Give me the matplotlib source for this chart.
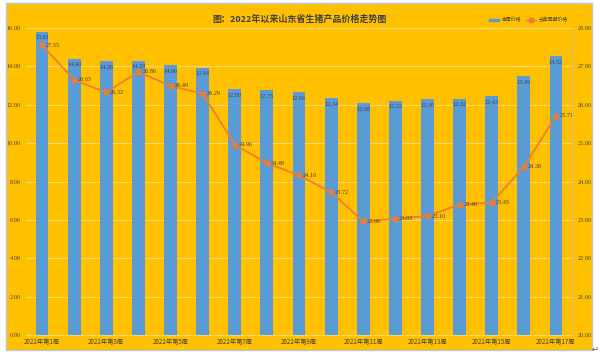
import matplotlib.pyplot as plt
import numpy as np
from matplotlib.patches import Rectangle
from matplotlib.lines import Line2D

plt.rcParams['font.family'] = ['Noto Sans CJK SC', 'DejaVu Sans']

weeks = [f"2022年第{i}周" for i in range(1, 18)]
price_now = [15.81, 14.40, 14.26, 14.29, 14.06, 13.94, 12.80, 12.75, 12.66,
             12.34, 12.08, 12.22, 12.30, 12.32, 12.43, 13.49, 14.52]
price_last = [27.55, 26.65, 26.32, 26.86, 26.49, 26.29, 24.96, 24.48, 24.16,
              23.72, 22.96, 23.03, 23.10, 23.40, 23.45, 24.38, 25.71]
left_ticks = [0, 2, 4, 6, 8, 10, 12, 14, 16]
right_ticks = [20, 21, 22, 23, 24, 25, 26, 27, 28]

gold = '#FFC000'
blue = '#5B9BD5'
orange = '#ED7D31'
grid_c = '#F5D77A'
txt = '#404040'
num_font = 'Liberation Serif'

fig = plt.figure(figsize=(6, 3.56), dpi=100, facecolor='white')
# chart area with thin border, drawn behind the axes
fig.patches.append(Rectangle((6 / 600, 1 - 350 / 356), 586 / 600, 347 / 356,
                             transform=fig.transFigure, facecolor=gold,
                             edgecolor='#B4C7D6', linewidth=1.0, zorder=-10))

ax = fig.add_axes([26 / 600, 1 - 335 / 356, 546 / 600, 307 / 356])
ax.set_facecolor('none')
x = np.arange(len(weeks))

ax.bar(x, price_now, width=0.4, color=blue, zorder=3)
ax.set_xlim(-0.5, len(weeks) - 0.5)
ax.set_ylim(0, 16)
ax.set_yticks(left_ticks)
ax.set_yticklabels([f"{v:.2f}" for v in left_ticks], fontsize=4.5,
                   family=num_font, color=txt)
ax.grid(axis='y', color=grid_c, linewidth=0.8, zorder=0)
ax.set_axisbelow(True)
ax.set_xticks(x[::2])
ax.set_xticklabels(weeks[::2], fontsize=4.5, color=txt)
ax.tick_params(length=0, pad=2)
ax.tick_params(axis='y', pad=4)
for s in ['top', 'left', 'right']:
    ax.spines[s].set_visible(False)
ax.spines['bottom'].set_color(grid_c)

for xi, v in zip(x, price_now):
    ax.text(xi, v - 0.32, f"{v:.2f}", ha='center', va='center', fontsize=4.5,
            family=num_font, color=txt, zorder=5)

ax2 = ax.twinx()
ax2.plot(x, price_last, color=orange, linewidth=1.3, marker='s',
         markersize=3.5, zorder=4)
ax2.set_ylim(20, 28)
ax2.set_yticks(right_ticks)
ax2.set_yticklabels([f"{v:.2f}" for v in right_ticks], fontsize=4.5,
                    family=num_font, color=txt)
ax2.tick_params(length=0, pad=4)
for s in ['top', 'left', 'bottom']:
    ax2.spines[s].set_visible(False)
ax2.spines['right'].set_color('#D9C27A')
for xi, v in zip(x, price_last):
    ax2.text(xi + 0.12, v, f"{v:.2f}", ha='left', va='center', fontsize=4.5,
             family=num_font, color=txt, zorder=5)

fig.text(0.5, 1 - 19 / 356, "图：2022年以来山东省生猪产品价格走势图",
         ha='center', va='center', fontsize=6.5, fontweight='bold', color=txt)

handles = [Rectangle((0, 0), 1, 1, color=blue),
           Line2D([], [], color=orange, marker='s', markersize=2.5, linewidth=1)]
fig.legend(handles, ["本周价格", "去年同期价格"], loc='center right',
           bbox_to_anchor=(572 / 600, 1 - 20 / 356), ncol=2, frameon=False,
           fontsize=3.5, handlelength=2.2, handleheight=0.4, columnspacing=1.0,
           handletextpad=0.4, labelcolor=txt)

fig.text(595 / 600, 1 - 349 / 356, "↵", fontsize=6, color='#555555',
         ha='center', va='center', family='DejaVu Sans')

fig.savefig('out.png', dpi=100, facecolor='white')
